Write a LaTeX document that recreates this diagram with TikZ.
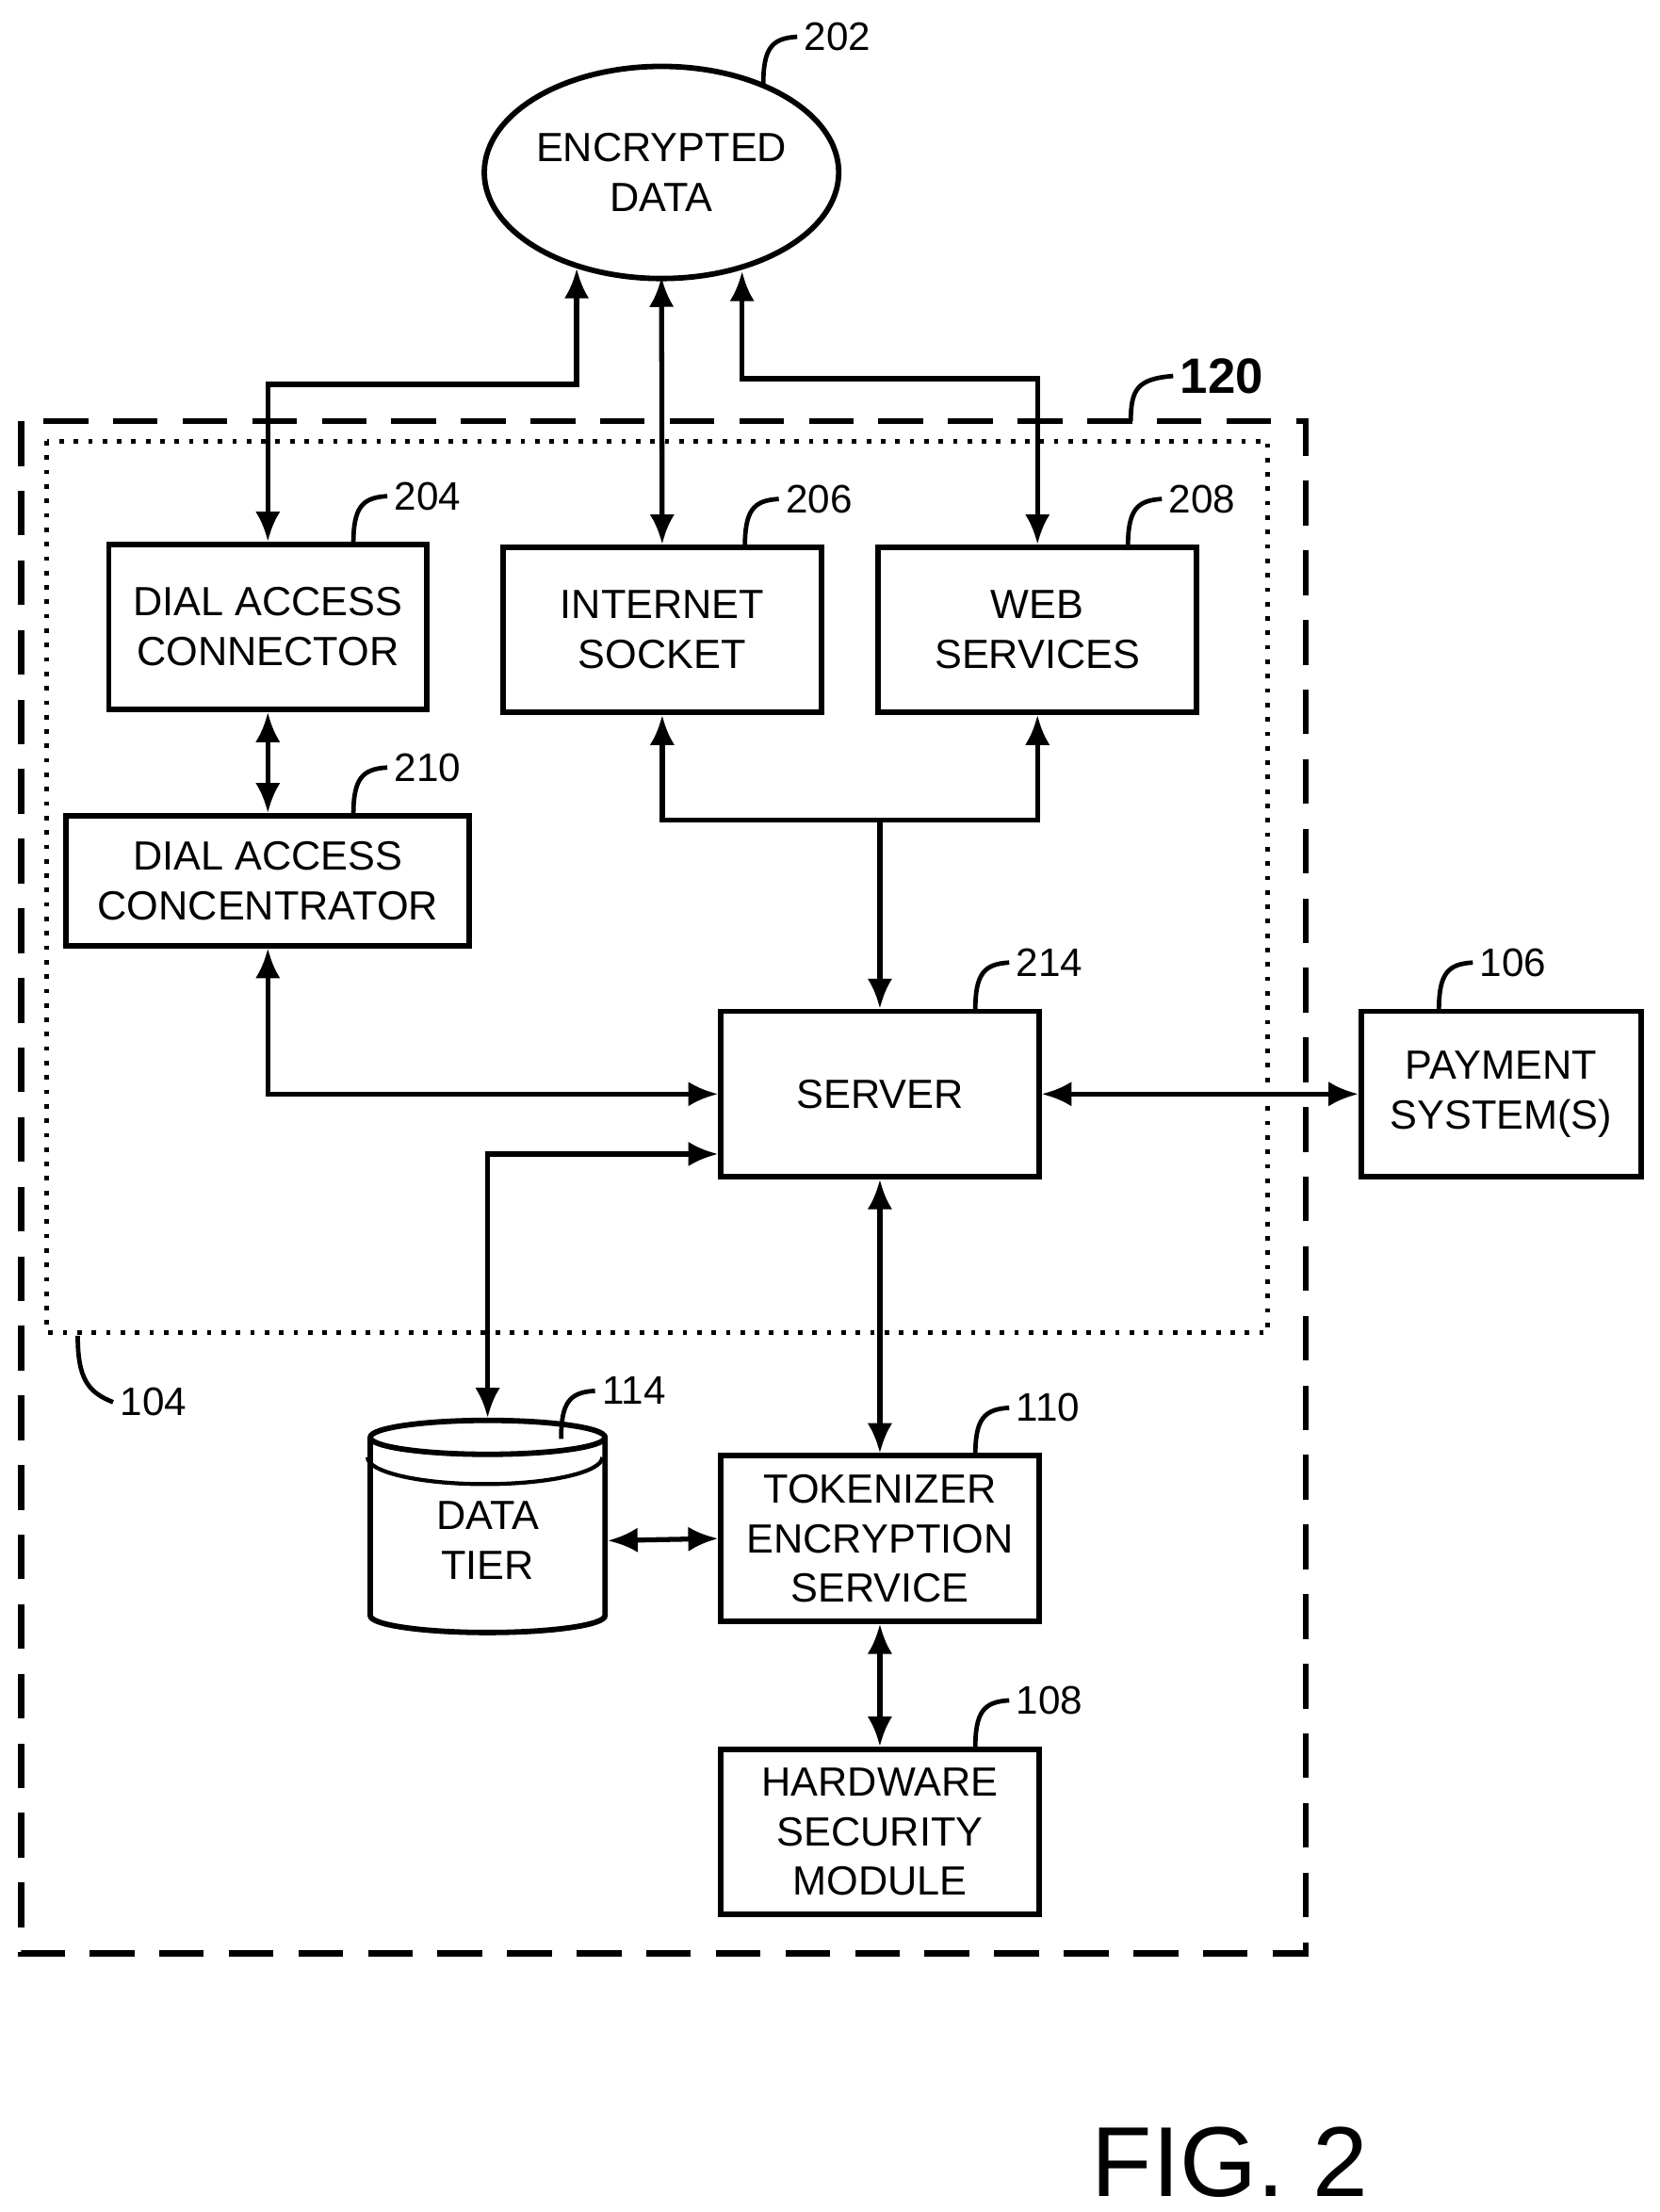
\documentclass[tikz,border=0pt]{standalone}
\usepackage{fontspec}
\setmainfont{Liberation Sans}
\usetikzlibrary{shapes.geometric,arrows.meta,positioning}
\tikzset{
	box/.style={draw,line width=1.1pt,minimum width=2.25cm,minimum height=1.17cm,align=center,font=\fontsize{8.2}{10}\selectfont},
	link/.style={line width=1pt,{Latex[length=6pt,width=5pt]}-{Latex[length=6pt,width=5pt]}},
	hook/.style={line width=0.9pt},
	num/.style={anchor=west,inner sep=1pt,font=\fontsize{8}{9}\selectfont}
}
\newcommand{\refnum}[3]{%
	\draw[hook,shift={(#1)}] (0,0) .. controls (0,-26) and (6,-33) .. (24,-34) node[num] (#2) {#3};}
\begin{document}
\begin{tikzpicture}[x=0.01cm,y=-0.01cm]
\useasboundingbox (0,0) rectangle (1174,1565);

%% frames
\draw[line width=1.2pt,dash pattern=on 9pt off 5pt] (15,298) rectangle (924,1382);
\draw[line width=0.9pt,dotted] (33,312) rectangle (897,943);

%% nodes
\node[draw,ellipse,inner sep=0pt,line width=1.1pt,minimum width=2.46cm,minimum height=1.5cm,align=center,font=\fontsize{8.2}{10}\selectfont] (enc) at (468,122) {ENCRYPTED\\DATA};
\node[box] (dac) at (189.5,443.5) {DIAL ACCESS\\CONNECTOR};
\node[box] (sock) at (468.5,445.5) {INTERNET\\SOCKET};
\node[box] (web) at (734,445.5) {WEB\\SERVICES};
\node[box,minimum width=2.85cm,minimum height=0.92cm] (conc) at (189.5,623) {DIAL ACCESS\\CONCENTRATOR};
\node[box] (srv) at (622.5,774) {SERVER};
\node[box,minimum width=1.98cm] (pay) at (1062,774) {PAYMENT\\SYSTEM(S)};
\node[box] (tok) at (622.5,1088.5) {TOKENIZER\\ENCRYPTION\\SERVICE};
\node[box] (hsm) at (622.5,1296) {HARDWARE\\SECURITY\\MODULE};
\node[draw,cylinder,shape border rotate=90,aspect=0.25,line width=1.1pt,minimum width=1.66cm,minimum height=1.5cm,align=center,font=\fontsize{8.2}{10}\selectfont] (tier) at (345,1090) {DATA\\TIER};
\draw[line width=0.8pt] ([yshift=-4pt]tier.before top) arc[start angle=180,end angle=360,x radius=0.83cm,y radius=0.19cm];
\node[font=\fontsize{20}{24}\selectfont] (fig) at (870,1530) {FIG. 2};

%% reference numerals
\refnum{540,60}{n202}{202}
\draw[hook] (800,298) .. controls (800,275) and (805,268) .. (830,266) node[anchor=west,inner sep=1pt,font=\bfseries\fontsize{10}{12}\selectfont] (n120) {120};
\draw[hook] (55,945) .. controls (55,975) and (62,985) .. (80,992) node[num] (n104) {104};
\refnum{250,385}{n204}{204}
\refnum{527,387}{n206}{206}
\refnum{798,387}{n208}{208}
\refnum{250,577}{n210}{210}
\refnum{690,715}{n214}{214}
\refnum{1018,715}{n106}{106}
\refnum{397,1018}{n114}{114}
\refnum{690,1030}{n110}{110}
\refnum{690,1237}{n108}{108}

%% connectors
\coordinate (e1) at (408,190);
\coordinate (e2) at (468,196);
\coordinate (e3) at (525,192);
\draw[link] (e1) |- (298,272) -| (dac.north);
\draw[link] (e2) -- (sock.north);
\draw[link] (e3) |- (630,268) -| (web.north);
\draw[link] (dac.south) -- (conc.north);
\draw[link] (sock.south) |- (600,580) -| (web.south);
\draw[line width=1pt,-{Latex[length=6pt,width=5pt]}] (srv.north |- 0,580) -- (srv.north);
\draw[link] (conc.south) |- (srv.west);
\draw[link] (tier.north) |- ([yshift=0.18cm]srv.south west);
\draw[link] (srv.east) -- (pay.west);
\draw[link] (srv.south) -- (tok.north);
\draw[link] (tier.east) -- (tok.west);
\draw[link] (tok.south) -- (hsm.north);
\end{tikzpicture}
\end{document}
